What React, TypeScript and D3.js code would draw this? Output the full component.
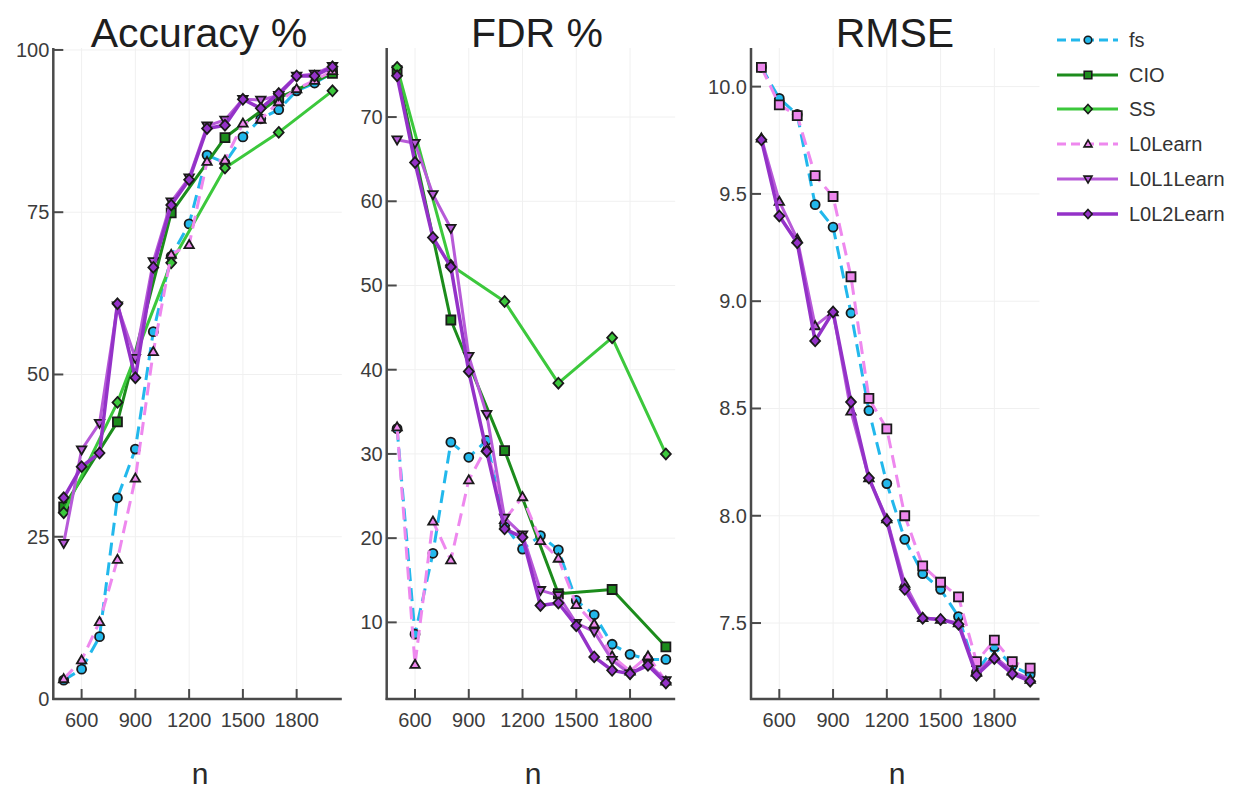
import React from 'react';
import * as d3 from 'd3';

// ---------- data ----------
const N_ALL = [500, 600, 700, 800, 900, 1000, 1100, 1200, 1300, 1400, 1500, 1600, 1700, 1800, 1900, 2000];
const N_SS = [500, 800, 1100, 1400, 1700, 2000];

const X_TICKS = [600, 900, 1200, 1500, 1800];
const ACC_TICKS = [0, 25, 50, 75, 100];
const FDR_TICKS = [10, 20, 30, 40, 50, 60, 70];
const RMSE_TICKS = [7.5, 8.0, 8.5, 9.0, 9.5, 10.0];

const ACC_FS = [2.9, 4.6, 9.6, 31.0, 38.5, 56.6, 68.2, 73.2, 83.8, 82.6, 86.6, 89.4, 90.8, 93.7, 94.9, 96.5];
const ACC_CIO = [29.6, 42.7, 74.9, 86.5, 92.6, 96.4];
const ACC_SS = [28.7, 45.7, 67.2, 81.8, 87.3, 93.7];
const ACC_L0 = [3.1, 6.0, 11.9, 21.5, 34.0, 53.5, 68.5, 70.0, 82.8, 83.0, 88.7, 89.3, 92.0, 94.0, 95.3, 96.8];
const ACC_L0L1 = [24.0, 38.4, 42.5, 60.6, 52.5, 67.4, 76.6, 80.3, 88.3, 89.2, 92.4, 92.3, 93.0, 96.0, 96.3, 97.5];
const ACC_L0L2 = [31.0, 35.8, 37.9, 60.9, 49.5, 66.5, 76.1, 80.0, 87.9, 88.4, 92.4, 91.0, 93.3, 96.0, 96.0, 97.4];

const FDR_FS = [33.0, 8.6, 18.2, 31.4, 29.6, 31.6, 21.5, 18.7, 20.3, 18.6, 12.6, 10.9, 7.4, 6.2, 5.6, 5.6];
const FDR_CIO = [75.5, 45.9, 30.4, 13.4, 13.9, 7.1];
const FDR_SS = [75.9, 52.4, 48.1, 38.4, 43.8, 30.0];
const FDR_L0 = [33.2, 5.0, 22.0, 17.4, 26.9, 30.8, 22.2, 24.9, 19.7, 17.6, 12.1, 9.8, 6.0, 4.2, 6.0, 3.0];
const FDR_L0L1 = [67.3, 66.9, 60.8, 56.8, 41.6, 34.7, 22.4, 20.4, 13.8, 13.2, 9.9, 8.9, 5.5, 3.9, 5.1, 3.1];
const FDR_L0L2 = [74.9, 64.6, 55.7, 52.2, 39.8, 30.3, 21.1, 20.1, 12.0, 12.3, 9.6, 5.9, 4.3, 3.9, 4.9, 2.8];

const RMSE_FS = [10.09, 9.945, 9.87, 9.45, 9.345, 8.945, 8.49, 8.15, 7.89, 7.73, 7.657, 7.53, 7.27, 7.39, 7.3, 7.26];
const RMSE_L0 = [10.09, 9.915, 9.865, 9.585, 9.488, 9.114, 8.547, 8.405, 8.0, 7.766, 7.69, 7.622, 7.32, 7.42, 7.32, 7.29];
const RMSE_L0L1 = [9.76, 9.465, 9.29, 8.885, 8.95, 8.487, 8.176, 7.985, 7.684, 7.525, 7.517, 7.5, 7.27, 7.345, 7.276, 7.237];
const RMSE_L0L2 = [9.752, 9.397, 9.272, 8.815, 8.95, 8.53, 8.176, 7.977, 7.657, 7.522, 7.517, 7.494, 7.257, 7.335, 7.263, 7.229];

const LEGEND_NAMES = ['fs', 'CIO', 'SS', 'L0Learn', 'L0L1Learn', 'L0L2Learn'];

// ---------- styles ----------
const STYLE: Record<string, { color: string; dash: string | null; marker: string; width: number }> = {
  fs: { color: '#22b8ec', dash: '13,7', marker: 'circle', width: 3 },
  CIO: { color: '#1c8c1c', dash: null, marker: 'square', width: 3 },
  SS: { color: '#3cc83c', dash: null, marker: 'diamond', width: 3 },
  L0Learn: { color: '#ee88ee', dash: '13,7', marker: 'utriangle', width: 3 },
  L0L1Learn: { color: '#b75ad8', dash: null, marker: 'dtriangle', width: 3 },
  L0L2Learn: { color: '#9432c8', dash: null, marker: 'diamond', width: 3.5 },
};

const FONT = '"Liberation Sans", Arial, sans-serif';
const TOP = 48;
const BOTTOM = 699;
const PW = 288.5;
const X_DOMAIN = [442, 2052];

function markerPath(shape: string, r: number): string {
  switch (shape) {
    case 'square':
      return `M${-r},${-r}H${r}V${r}H${-r}Z`;
    case 'diamond':
      return `M0,${-r * 1.2}L${r * 1.1},0L0,${r * 1.2}L${-r * 1.1},0Z`;
    case 'utriangle':
      return `M0,${-r * 1.05}L${r * 1.05},${r * 0.75}L${-r * 1.05},${r * 0.75}Z`;
    case 'dtriangle':
      return `M0,${r * 1.05}L${r * 1.05},${-r * 0.75}L${-r * 1.05},${-r * 0.75}Z`;
    default: {
      const p = d3.path();
      p.arc(0, 0, r, 0, Math.PI * 2);
      p.closePath();
      return p.toString();
    }
  }
}

type Series = { key: string; n: number[]; v: number[]; marker?: string };
type Panel = {
  title: string;
  titleX: number;
  labelX: number;
  left: number;
  yDomain: [number, number];
  yTicks: number[];
  fmt: (d: number) => string;
  series: Series[];
};

const PANELS: Panel[] = [
  {
    title: 'Accuracy %', titleX: 199, labelX: 200, left: 53.3,
    yDomain: [0, 100.3], yTicks: ACC_TICKS, fmt: (d) => String(d),
    series: [
      { key: 'fs', n: N_ALL, v: ACC_FS },
      { key: 'CIO', n: N_SS, v: ACC_CIO },
      { key: 'SS', n: N_SS, v: ACC_SS },
      { key: 'L0Learn', n: N_ALL, v: ACC_L0 },
      { key: 'L0L1Learn', n: N_ALL, v: ACC_L0L1 },
      { key: 'L0L2Learn', n: N_ALL, v: ACC_L0L2 },
    ],
  },
  {
    title: 'FDR %', titleX: 537, labelX: 533, left: 386.7,
    yDomain: [0.9, 78.2], yTicks: FDR_TICKS, fmt: (d) => String(d),
    series: [
      { key: 'fs', n: N_ALL, v: FDR_FS },
      { key: 'CIO', n: N_SS, v: FDR_CIO },
      { key: 'SS', n: N_SS, v: FDR_SS },
      { key: 'L0Learn', n: N_ALL, v: FDR_L0 },
      { key: 'L0L1Learn', n: N_ALL, v: FDR_L0L1 },
      { key: 'L0L2Learn', n: N_ALL, v: FDR_L0L2 },
    ],
  },
  {
    title: 'RMSE', titleX: 895, labelX: 897, left: 751,
    yDomain: [7.146, 10.18], yTicks: RMSE_TICKS, fmt: d3.format('.1f'),
    series: [
      { key: 'fs', n: N_ALL, v: RMSE_FS },
      { key: 'L0Learn', n: N_ALL, v: RMSE_L0, marker: 'square' },
      { key: 'L0L1Learn', n: N_ALL, v: RMSE_L0L1, marker: 'utriangle' },
      { key: 'L0L2Learn', n: N_ALL, v: RMSE_L0L2 },
    ],
  },
];

function PanelView({ p }: { p: Panel }) {
  const x = d3.scaleLinear().domain(X_DOMAIN).range([p.left, p.left + PW]);
  const y = d3.scaleLinear().domain(p.yDomain).range([BOTTOM, TOP]);
  const axisColor = '#4a4a4a';
  return (
    <g>
      {/* grid */}
      {X_TICKS.map((t) => (
        <line key={'gx' + t} x1={x(t)} x2={x(t)} y1={TOP} y2={BOTTOM} stroke="#f0f0f0" strokeWidth={1} />
      ))}
      {p.yTicks.map((t) => (
        <line key={'gy' + t} x1={p.left} x2={p.left + PW} y1={y(t)} y2={y(t)} stroke="#f0f0f0" strokeWidth={1} />
      ))}
      {/* series */}
      {p.series.map((s) => {
        const st = STYLE[s.key];
        const pts = s.n.map((n, i) => [x(n), y(s.v[i])] as [number, number]);
        const line = d3.line()(pts) || '';
        const shape = s.marker || st.marker;
        const mp = markerPath(shape, 4.5);
        return (
          <g key={s.key}>
            <path d={line} fill="none" stroke={st.color} strokeWidth={st.width}
              strokeDasharray={st.dash || undefined} strokeLinejoin="round" />
            {pts.map((pt, i) => (
              <path key={i} d={mp} transform={`translate(${pt[0]},${pt[1]})`}
                fill={st.color} stroke="#1a1a1a" strokeWidth={1.8} />
            ))}
          </g>
        );
      })}
      {/* axes */}
      <line x1={p.left} x2={p.left} y1={TOP} y2={BOTTOM + 1} stroke={axisColor} strokeWidth={2.5} />
      <line x1={p.left - 1} x2={p.left + PW} y1={BOTTOM} y2={BOTTOM} stroke={axisColor} strokeWidth={2.5} />
      {X_TICKS.map((t) => (
        <g key={'tx' + t}>
          <line x1={x(t)} x2={x(t)} y1={BOTTOM} y2={BOTTOM - 10} stroke={axisColor} strokeWidth={2} />
          <text x={x(t)} y={727} textAnchor="middle" fontSize={20} fill="#3c3c3c" fontFamily={FONT}>{t}</text>
        </g>
      ))}
      {p.yTicks.map((t) => (
        <g key={'ty' + t}>
          <line x1={p.left} x2={p.left + 10} y1={y(t)} y2={y(t)} stroke={axisColor} strokeWidth={2} />
          <text x={p.left - 4} y={y(t) + 7} textAnchor="end" fontSize={20} fill="#3c3c3c" fontFamily={FONT}>{p.fmt(t)}</text>
        </g>
      ))}
      <text x={p.titleX} y={47} textAnchor="middle" fontSize={41} fill="#1e1e1e" fontFamily={FONT}>{p.title}</text>
      <text x={p.labelX} y={784} textAnchor="middle" fontSize={30} fill="#2a2a2a" fontFamily={FONT}>n</text>
    </g>
  );
}

function Legend() {
  const rowY = [40, 75, 109, 144, 179, 214];
  return (
    <g>
      {LEGEND_NAMES.map((name, i) => {
        const st = STYLE[name];
        const yy = rowY[i];
        return (
          <g key={name}>
            <line x1={1057} x2={1118} y1={yy} y2={yy} stroke={st.color} strokeWidth={st.width}
              strokeDasharray={st.dash ? '9,5' : undefined} />
            <path d={markerPath(st.marker, 3.8)} transform={`translate(${1088},${yy})`} fill={st.color}
              stroke="#1a1a1a" strokeWidth={1.6} />
            <text x={1129} y={yy + 7} fontSize={20} fill="#333" fontFamily={FONT}>{name}</text>
          </g>
        );
      })}
    </g>
  );
}

export default function App() {
  return (
    <svg width={1243} height={792} style={{ position: 'absolute', left: 0, top: 0, background: '#fff' }}>
      <rect x={0} y={0} width={1243} height={792} fill="#ffffff" />
      {PANELS.map((p) => (
        <PanelView key={p.title} p={p} />
      ))}
      <Legend />
    </svg>
  );
}
